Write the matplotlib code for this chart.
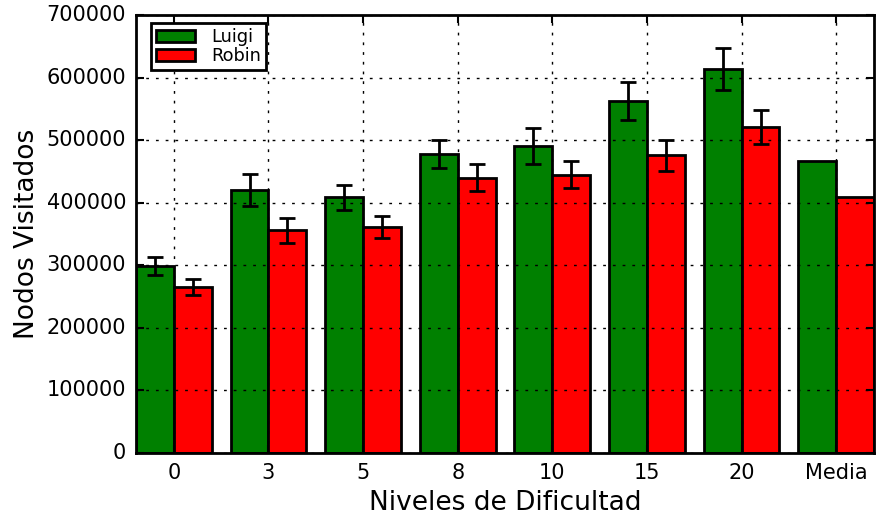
import matplotlib
matplotlib.use("Agg")
import matplotlib.pyplot as plt
import numpy as np

plt.style.use("classic")

categories = ["0", "3", "5", "8", "10", "15", "20", "Media"]
luigi = [299000, 420000, 409000, 478000, 491000, 563000, 614000, 467000]
luigi_err = [15000, 26000, 20000, 22000, 29000, 30000, 34000]
robin = [265000, 356000, 361000, 440000, 445000, 476000, 521000, 409000]
robin_err = [13000, 20000, 17000, 22000, 21000, 25000, 27000]

fig = plt.figure(figsize=(8.84, 5.23), dpi=100, facecolor="white")
ax = fig.add_axes([0.1538, 0.1338, 0.835, 0.8375])

x = np.arange(len(categories))
w = 0.4
n = len(luigi_err)
err_kw = dict(ecolor="black", elinewidth=2, capsize=5.5, capthick=2, zorder=3)
bar_kw = dict(align="edge", edgecolor="black", linewidth=2, zorder=1)

# per-level bars with error bars, then the mean bars without
ax.bar(x[:n] - w, luigi[:n], w, color="green", yerr=luigi_err,
       error_kw=err_kw, label="Luigi", **bar_kw)
ax.bar(x[n:] - w, luigi[n:], w, color="green", **bar_kw)
ax.bar(x[:n], robin[:n], w, color="red", yerr=robin_err,
       error_kw=err_kw, label="Robin", **bar_kw)
ax.bar(x[n:], robin[n:], w, color="red", **bar_kw)

ax.set_xlim(-0.4, 7.4)
ax.set_ylim(0, 700000)
ax.set_xticks(x)
ax.set_xticklabels(categories)
ax.set_yticks(np.arange(0, 700001, 100000))
ax.tick_params(labelsize=15, width=1.5, length=6, pad=7)
ax.set_axisbelow(False)
ax.grid(True, color="black", linestyle=(0, (2, 5)), linewidth=1.0, zorder=2)
for s in ax.spines.values():
    s.set_linewidth(2)

ax.set_xlabel("Niveles de Dificultad", fontsize=19)
ax.set_ylabel("Nodos Visitados", fontsize=19)
leg = ax.legend(loc="upper left", bbox_to_anchor=(0.0203, 0.9817),
                borderaxespad=0.0, fontsize=12.8, frameon=True,
                handlelength=2.2, handleheight=0.68, borderpad=0.28,
                labelspacing=0.05, handletextpad=0.9, fancybox=False)
leg.get_frame().set_linewidth(2)
leg.set_zorder(5)

fig.savefig("out.png", dpi=100, facecolor="white")
